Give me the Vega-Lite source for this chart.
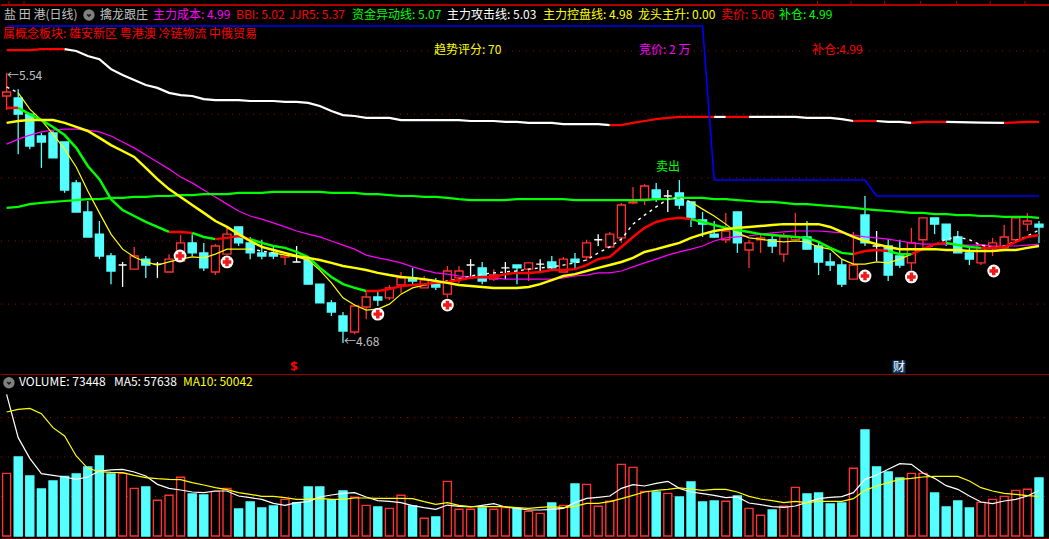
{"$schema":"https://vega.github.io/schema/vega-lite/v6.json","background":"#000000","padding":0,"spacing":0,"autosize":{"type":"pad"},"config":{"view":{"stroke":null},"concat":{"spacing":0},"axis":{"domain":false}},
"datasets":{
"bars":[
{"i":0,"o":5.460,"h":5.534,"l":5.415,"c":5.473,"d":"up","vol":79300,"vd":"up","ma5":179400,"ma10":157000,"ctrl":5.374,"cost":5.306,"long":5.102},
{"i":1,"o":5.454,"h":5.482,"l":5.274,"c":5.402,"d":"down","vol":100000,"vd":"down","ma5":124500,"ma10":160400,"ctrl":5.380,"cost":5.322,"long":5.105},
{"i":2,"o":5.402,"h":5.402,"l":5.290,"c":5.300,"d":"down","vol":76000,"vd":"down","ma5":98300,"ma10":161600,"ctrl":5.383,"cost":5.335,"long":5.114},
{"i":3,"o":5.332,"h":5.342,"l":5.230,"c":5.313,"d":"down","vol":59500,"vd":"down","ma5":78900,"ma10":154900,"ctrl":5.383,"cost":5.345,"long":5.118},
{"i":4,"o":5.342,"h":5.348,"l":5.262,"c":5.262,"d":"down","vol":69600,"vd":"down","ma5":76800,"ma10":137200,"ctrl":5.383,"cost":5.351,"long":5.121},
{"i":5,"o":5.313,"h":5.313,"l":5.150,"c":5.159,"d":"down","vol":75500,"vd":"down","ma5":74700,"ma10":126600,"ctrl":5.374,"cost":5.354,"long":5.124},
{"i":6,"o":5.182,"h":5.191,"l":5.089,"c":5.089,"d":"down","vol":78500,"vd":"down","ma5":71700,"ma10":101300,"ctrl":5.361,"cost":5.354,"long":5.127},
{"i":7,"o":5.089,"h":5.124,"l":5.009,"c":5.009,"d":"down","vol":87400,"vd":"down","ma5":74700,"ma10":85700,"ctrl":5.348,"cost":5.351,"long":5.130},
{"i":8,"o":5.018,"h":5.060,"l":4.938,"c":4.948,"d":"down","vol":101300,"vd":"down","ma5":82300,"ma10":81400,"ctrl":5.326,"cost":5.345,"long":5.130},
{"i":9,"o":4.948,"h":4.958,"l":4.858,"c":4.900,"d":"down","vol":78500,"vd":"down","ma5":83600,"ma10":80600,"ctrl":5.303,"cost":5.332,"long":5.134},
{"i":10,"o":4.919,"h":4.929,"l":4.849,"c":4.919,"d":"doji","vol":79300,"vd":"up","ma5":84400,"ma10":80200,"ctrl":5.284,"cost":5.313,"long":5.134},
{"i":11,"o":4.906,"h":4.977,"l":4.906,"c":4.948,"d":"up","vol":60300,"vd":"up","ma5":81000,"ma10":76800,"ctrl":5.265,"cost":5.294,"long":5.137},
{"i":12,"o":4.938,"h":4.948,"l":4.878,"c":4.919,"d":"down","vol":62000,"vd":"down","ma5":76000,"ma10":73900,"ctrl":5.230,"cost":5.271,"long":5.137},
{"i":13,"o":4.922,"h":4.929,"l":4.878,"c":4.922,"d":"doji","vol":45200,"vd":"up","ma5":65400,"ma10":72600,"ctrl":5.194,"cost":5.249,"long":5.140},
{"i":14,"o":4.897,"h":4.954,"l":4.897,"c":4.938,"d":"up","vol":51500,"vd":"up","ma5":60300,"ma10":71700,"ctrl":5.162,"cost":5.226,"long":5.140},
{"i":15,"o":4.932,"h":5.015,"l":4.932,"c":4.990,"d":"up","vol":74300,"vd":"up","ma5":58200,"ma10":71300,"ctrl":5.137,"cost":5.201,"long":5.143},
{"i":16,"o":4.990,"h":5.018,"l":4.948,"c":4.958,"d":"down","vol":53200,"vd":"down","ma5":55700,"ma10":67500,"ctrl":5.111,"cost":5.182,"long":5.143},
{"i":17,"o":4.958,"h":4.990,"l":4.900,"c":4.910,"d":"down","vol":51900,"vd":"down","ma5":54900,"ma10":64600,"ctrl":5.086,"cost":5.159,"long":5.146},
{"i":18,"o":4.897,"h":4.986,"l":4.887,"c":4.980,"d":"up","vol":56500,"vd":"up","ma5":57000,"ma10":61200,"ctrl":5.060,"cost":5.137,"long":5.146},
{"i":19,"o":4.954,"h":5.038,"l":4.954,"c":5.018,"d":"up","vol":60300,"vd":"up","ma5":57000,"ma10":58700,"ctrl":5.041,"cost":5.114,"long":5.146},
{"i":20,"o":5.041,"h":5.041,"l":4.980,"c":4.990,"d":"down","vol":34200,"vd":"down","ma5":50600,"ma10":54900,"ctrl":5.018,"cost":5.092,"long":5.150},
{"i":21,"o":4.990,"h":5.009,"l":4.938,"c":4.958,"d":"down","vol":43000,"vd":"down","ma5":48500,"ma10":52800,"ctrl":4.996,"cost":5.076,"long":5.150},
{"i":22,"o":4.958,"h":5.000,"l":4.938,"c":4.948,"d":"down","vol":35400,"vd":"down","ma5":46400,"ma10":50200,"ctrl":4.977,"cost":5.066,"long":5.150},
{"i":23,"o":4.958,"h":4.980,"l":4.938,"c":4.948,"d":"down","vol":38000,"vd":"down","ma5":41400,"ma10":50200,"ctrl":4.967,"cost":5.054,"long":5.153},
{"i":24,"o":4.945,"h":4.961,"l":4.919,"c":4.954,"d":"up","vol":46400,"vd":"up","ma5":38800,"ma10":48500,"ctrl":4.958,"cost":5.041,"long":5.153},
{"i":25,"o":4.929,"h":4.980,"l":4.929,"c":4.929,"d":"doji","vol":42200,"vd":"down","ma5":42200,"ma10":46400,"ctrl":4.948,"cost":5.028,"long":5.153},
{"i":26,"o":4.938,"h":4.938,"l":4.858,"c":4.858,"d":"down","vol":62000,"vd":"down","ma5":43500,"ma10":46400,"ctrl":4.942,"cost":5.018,"long":5.153},
{"i":27,"o":4.858,"h":4.858,"l":4.798,"c":4.798,"d":"down","vol":62000,"vd":"down","ma5":49400,"ma10":47700,"ctrl":4.935,"cost":5.009,"long":5.153},
{"i":28,"o":4.798,"h":4.807,"l":4.756,"c":4.769,"d":"down","vol":45600,"vd":"down","ma5":51900,"ma10":46400,"ctrl":4.926,"cost":4.996,"long":5.150},
{"i":29,"o":4.756,"h":4.769,"l":4.670,"c":4.708,"d":"down","vol":57000,"vd":"down","ma5":54000,"ma10":46400,"ctrl":4.916,"cost":4.983,"long":5.150},
{"i":30,"o":4.705,"h":4.794,"l":4.698,"c":4.788,"d":"up","vol":49000,"vd":"up","ma5":54900,"ma10":48100,"ctrl":4.910,"cost":4.970,"long":5.150},
{"i":31,"o":4.785,"h":4.839,"l":4.746,"c":4.817,"d":"up","vol":38800,"vd":"up","ma5":49400,"ma10":48100,"ctrl":4.903,"cost":4.951,"long":5.146},
{"i":32,"o":4.817,"h":4.839,"l":4.788,"c":4.807,"d":"down","vol":36700,"vd":"down","ma5":44700,"ma10":47700,"ctrl":4.894,"cost":4.942,"long":5.146},
{"i":33,"o":4.814,"h":4.855,"l":4.807,"c":4.846,"d":"up","vol":35000,"vd":"up","ma5":43900,"ma10":47700,"ctrl":4.887,"cost":4.935,"long":5.143},
{"i":34,"o":4.855,"h":4.897,"l":4.830,"c":4.878,"d":"up","vol":51500,"vd":"up","ma5":42200,"ma10":47700,"ctrl":4.881,"cost":4.926,"long":5.140},
{"i":35,"o":4.878,"h":4.910,"l":4.855,"c":4.868,"d":"down","vol":38000,"vd":"down","ma5":38400,"ma10":47300,"ctrl":4.878,"cost":4.913,"long":5.140},
{"i":36,"o":4.846,"h":4.884,"l":4.846,"c":4.871,"d":"up","vol":22400,"vd":"up","ma5":35900,"ma10":43500,"ctrl":4.874,"cost":4.903,"long":5.137},
{"i":37,"o":4.862,"h":4.878,"l":4.839,"c":4.849,"d":"down","vol":24100,"vd":"down","ma5":33800,"ma10":40100,"ctrl":4.868,"cost":4.894,"long":5.137},
{"i":38,"o":4.826,"h":4.916,"l":4.814,"c":4.900,"d":"up","vol":69200,"vd":"up","ma5":39200,"ma10":42200,"ctrl":4.862,"cost":4.890,"long":5.134},
{"i":39,"o":4.878,"h":4.916,"l":4.862,"c":4.900,"d":"up","vol":33800,"vd":"up","ma5":37600,"ma10":38800,"ctrl":4.855,"cost":4.884,"long":5.130},
{"i":40,"o":4.919,"h":4.938,"l":4.878,"c":4.919,"d":"doji","vol":33800,"vd":"up","ma5":36700,"ma10":37100,"ctrl":4.852,"cost":4.881,"long":5.127},
{"i":41,"o":4.910,"h":4.929,"l":4.858,"c":4.868,"d":"down","vol":35400,"vd":"down","ma5":38800,"ma10":37100,"ctrl":4.849,"cost":4.878,"long":5.127},
{"i":42,"o":4.874,"h":4.906,"l":4.868,"c":4.887,"d":"up","vol":33800,"vd":"up","ma5":40900,"ma10":37100,"ctrl":4.846,"cost":4.878,"long":5.127},
{"i":43,"o":4.910,"h":4.929,"l":4.874,"c":4.910,"d":"doji","vol":35900,"vd":"up","ma5":36700,"ma10":37100,"ctrl":4.846,"cost":4.874,"long":5.127},
{"i":44,"o":4.919,"h":4.919,"l":4.858,"c":4.910,"d":"down","vol":34600,"vd":"down","ma5":35000,"ma10":35900,"ctrl":4.846,"cost":4.874,"long":5.130},
{"i":45,"o":4.906,"h":4.926,"l":4.868,"c":4.926,"d":"up","vol":31200,"vd":"up","ma5":32900,"ma10":35000,"ctrl":4.849,"cost":4.874,"long":5.130},
{"i":46,"o":4.922,"h":4.938,"l":4.900,"c":4.922,"d":"doji","vol":28700,"vd":"up","ma5":32900,"ma10":36300,"ctrl":4.858,"cost":4.874,"long":5.130},
{"i":47,"o":4.929,"h":4.948,"l":4.903,"c":4.910,"d":"down","vol":41800,"vd":"down","ma5":33800,"ma10":37100,"ctrl":4.871,"cost":4.874,"long":5.130},
{"i":48,"o":4.897,"h":4.945,"l":4.897,"c":4.938,"d":"up","vol":38800,"vd":"up","ma5":35000,"ma10":35900,"ctrl":4.884,"cost":4.878,"long":5.130},
{"i":49,"o":4.938,"h":4.958,"l":4.903,"c":4.929,"d":"down","vol":65800,"vd":"down","ma5":42200,"ma10":37600,"ctrl":4.890,"cost":4.884,"long":5.127},
{"i":50,"o":4.945,"h":5.000,"l":4.932,"c":4.990,"d":"up","vol":65400,"vd":"up","ma5":47700,"ma10":41400,"ctrl":4.900,"cost":4.887,"long":5.127},
{"i":51,"o":5.000,"h":5.018,"l":4.980,"c":5.000,"d":"doji","vol":37600,"vd":"up","ma5":49000,"ma10":41400,"ctrl":4.910,"cost":4.894,"long":5.127},
{"i":52,"o":4.977,"h":5.025,"l":4.977,"c":5.018,"d":"up","vol":43900,"vd":"up","ma5":50600,"ma10":43500,"ctrl":4.919,"cost":4.894,"long":5.127},
{"i":53,"o":5.006,"h":5.118,"l":4.990,"c":5.111,"d":"up","vol":90700,"vd":"up","ma5":60300,"ma10":47300,"ctrl":4.929,"cost":4.900,"long":5.127},
{"i":54,"o":5.118,"h":5.169,"l":5.114,"c":5.121,"d":"up","vol":86900,"vd":"up","ma5":65000,"ma10":51500,"ctrl":4.942,"cost":4.913,"long":5.127},
{"i":55,"o":5.130,"h":5.178,"l":5.111,"c":5.172,"d":"up","vol":56500,"vd":"up","ma5":63300,"ma10":55700,"ctrl":4.961,"cost":4.926,"long":5.127},
{"i":56,"o":5.159,"h":5.182,"l":5.121,"c":5.134,"d":"down","vol":55700,"vd":"down","ma5":66700,"ma10":57800,"ctrl":4.970,"cost":4.938,"long":5.130},
{"i":57,"o":5.140,"h":5.159,"l":5.089,"c":5.140,"d":"doji","vol":54000,"vd":"up","ma5":69200,"ma10":59100,"ctrl":4.980,"cost":4.951,"long":5.130},
{"i":58,"o":5.150,"h":5.191,"l":5.098,"c":5.111,"d":"down","vol":49400,"vd":"down","ma5":60300,"ma10":60800,"ctrl":4.990,"cost":4.961,"long":5.134},
{"i":59,"o":5.121,"h":5.121,"l":5.041,"c":5.070,"d":"down","vol":68400,"vd":"down","ma5":55700,"ma10":59500,"ctrl":5.006,"cost":4.970,"long":5.134},
{"i":60,"o":5.063,"h":5.089,"l":5.009,"c":5.050,"d":"down","vol":43000,"vd":"down","ma5":53600,"ma10":57800,"ctrl":5.018,"cost":4.980,"long":5.134},
{"i":61,"o":5.018,"h":5.060,"l":5.006,"c":5.009,"d":"down","vol":44300,"vd":"down","ma5":51500,"ma10":59100,"ctrl":5.028,"cost":4.996,"long":5.130},
{"i":62,"o":5.000,"h":5.086,"l":4.990,"c":5.028,"d":"up","vol":43900,"vd":"up","ma5":48500,"ma10":59100,"ctrl":5.034,"cost":5.006,"long":5.130},
{"i":63,"o":5.089,"h":5.089,"l":4.958,"c":4.990,"d":"down","vol":50600,"vd":"down","ma5":49400,"ma10":55700,"ctrl":5.038,"cost":5.009,"long":5.127},
{"i":64,"o":4.967,"h":5.000,"l":4.910,"c":4.990,"d":"up","vol":35000,"vd":"up","ma5":41800,"ma10":50200,"ctrl":5.041,"cost":5.012,"long":5.124},
{"i":65,"o":5.000,"h":5.018,"l":4.958,"c":5.006,"d":"up","vol":26200,"vd":"up","ma5":39700,"ma10":46800,"ctrl":5.044,"cost":5.018,"long":5.121},
{"i":66,"o":5.000,"h":5.018,"l":4.958,"c":4.980,"d":"down","vol":32900,"vd":"down","ma5":37100,"ma10":44700,"ctrl":5.047,"cost":5.022,"long":5.121},
{"i":67,"o":4.954,"h":5.022,"l":4.929,"c":5.009,"d":"up","vol":37600,"vd":"up","ma5":36300,"ma10":42200,"ctrl":5.050,"cost":5.025,"long":5.118},
{"i":68,"o":5.000,"h":5.086,"l":5.000,"c":5.009,"d":"up","vol":61600,"vd":"up","ma5":38000,"ma10":43900,"ctrl":5.050,"cost":5.028,"long":5.114},
{"i":69,"o":5.009,"h":5.060,"l":4.970,"c":4.970,"d":"down","vol":53200,"vd":"down","ma5":42600,"ma10":42200,"ctrl":5.050,"cost":5.028,"long":5.114},
{"i":70,"o":4.980,"h":4.996,"l":4.887,"c":4.929,"d":"down","vol":54400,"vd":"down","ma5":47300,"ma10":43900,"ctrl":5.050,"cost":5.028,"long":5.111},
{"i":71,"o":4.929,"h":4.958,"l":4.900,"c":4.919,"d":"down","vol":40500,"vd":"down","ma5":49000,"ma10":43900,"ctrl":5.041,"cost":5.025,"long":5.108},
{"i":72,"o":4.919,"h":4.938,"l":4.849,"c":4.858,"d":"down","vol":41800,"vd":"down","ma5":49800,"ma10":43900,"ctrl":5.025,"cost":5.022,"long":5.105},
{"i":73,"o":4.874,"h":5.025,"l":4.874,"c":4.919,"d":"up","vol":85700,"vd":"up","ma5":54900,"ma10":47300,"ctrl":5.009,"cost":5.015,"long":5.102},
{"i":74,"o":5.079,"h":5.140,"l":4.980,"c":4.990,"d":"down","vol":134200,"vd":"down","ma5":71700,"ma10":57800,"ctrl":4.996,"cost":5.009,"long":5.098},
{"i":75,"o":4.980,"h":5.028,"l":4.932,"c":4.980,"d":"doji","vol":87400,"vd":"down","ma5":77200,"ma10":63300,"ctrl":4.986,"cost":5.006,"long":5.095},
{"i":76,"o":4.980,"h":5.002,"l":4.868,"c":4.887,"d":"down","vol":81000,"vd":"down","ma5":84400,"ma10":67500,"ctrl":4.977,"cost":5.002,"long":5.092},
{"i":77,"o":4.948,"h":5.000,"l":4.910,"c":4.919,"d":"down","vol":73400,"vd":"down","ma5":91600,"ma10":71700,"ctrl":4.970,"cost":4.996,"long":5.089},
{"i":78,"o":4.926,"h":5.038,"l":4.903,"c":4.990,"d":"up","vol":79300,"vd":"up","ma5":90700,"ma10":73000,"ctrl":4.970,"cost":4.990,"long":5.086},
{"i":79,"o":5.000,"h":5.070,"l":4.974,"c":5.070,"d":"up","vol":79300,"vd":"up","ma5":79800,"ma10":74700,"ctrl":4.970,"cost":4.986,"long":5.086},
{"i":80,"o":5.070,"h":5.070,"l":5.018,"c":5.050,"d":"down","vol":54400,"vd":"down","ma5":73000,"ma10":75500,"ctrl":4.970,"cost":4.986,"long":5.082},
{"i":81,"o":5.050,"h":5.050,"l":4.980,"c":5.000,"d":"down","vol":36700,"vd":"down","ma5":63700,"ma10":75500,"ctrl":4.967,"cost":4.986,"long":5.082},
{"i":82,"o":5.009,"h":5.028,"l":4.958,"c":4.958,"d":"down","vol":44300,"vd":"down","ma5":59100,"ma10":75500,"ctrl":4.967,"cost":4.983,"long":5.079},
{"i":83,"o":4.958,"h":4.980,"l":4.919,"c":4.938,"d":"down","vol":35400,"vd":"down","ma5":50600,"ma10":69600,"ctrl":4.964,"cost":4.983,"long":5.079},
{"i":84,"o":4.926,"h":4.986,"l":4.919,"c":4.983,"d":"up","vol":42600,"vd":"up","ma5":43000,"ma10":61200,"ctrl":4.964,"cost":4.983,"long":5.076},
{"i":85,"o":4.977,"h":5.006,"l":4.948,"c":4.990,"d":"up","vol":46400,"vd":"up","ma5":40900,"ma10":57000,"ctrl":4.964,"cost":4.980,"long":5.076},
{"i":86,"o":4.974,"h":5.047,"l":4.974,"c":5.009,"d":"up","vol":50200,"vd":"up","ma5":44300,"ma10":54000,"ctrl":4.967,"cost":4.980,"long":5.073},
{"i":87,"o":5.000,"h":5.070,"l":5.000,"c":5.070,"d":"up","vol":57800,"vd":"up","ma5":46400,"ma10":52800,"ctrl":4.967,"cost":4.980,"long":5.073},
{"i":88,"o":5.050,"h":5.086,"l":5.028,"c":5.060,"d":"up","vol":59100,"vd":"up","ma5":50600,"ma10":51100,"ctrl":4.974,"cost":4.983,"long":5.073},
{"i":89,"o":5.050,"h":5.060,"l":4.990,"c":5.041,"d":"down","vol":73448,"vd":"down","ma5":57638,"ma10":50042,"ctrl":4.980,"cost":4.986,"long":5.070}
],
"trend":[
{"i":0,"v":5.607,"s":1,"k":"up"},{"i":2,"v":5.607,"s":1,"k":"up"},{"i":3,"v":5.610,"s":1,"k":"up"},{"i":5,"v":5.610,"s":1,"k":"up"},
{"i":5,"v":5.610,"s":2,"k":"flat"},{"i":6,"v":5.604,"s":2,"k":"flat"},{"i":7,"v":5.588,"s":2,"k":"flat"},{"i":8,"v":5.578,"s":2,"k":"flat"},{"i":9,"v":5.546,"s":2,"k":"flat"},{"i":10,"v":5.527,"s":2,"k":"flat"},{"i":11,"v":5.511,"s":2,"k":"flat"},{"i":12,"v":5.495,"s":2,"k":"flat"},{"i":13,"v":5.486,"s":2,"k":"flat"},{"i":14,"v":5.470,"s":2,"k":"flat"},{"i":15,"v":5.463,"s":2,"k":"flat"},{"i":16,"v":5.460,"s":2,"k":"flat"},{"i":17,"v":5.450,"s":2,"k":"flat"},{"i":18,"v":5.447,"s":2,"k":"flat"},{"i":20,"v":5.447,"s":2,"k":"flat"},{"i":21,"v":5.444,"s":2,"k":"flat"},{"i":23,"v":5.444,"s":2,"k":"flat"},{"i":24,"v":5.441,"s":2,"k":"flat"},{"i":25,"v":5.441,"s":2,"k":"flat"},{"i":26,"v":5.438,"s":2,"k":"flat"},{"i":27,"v":5.428,"s":2,"k":"flat"},{"i":28,"v":5.412,"s":2,"k":"flat"},{"i":29,"v":5.399,"s":2,"k":"flat"},{"i":30,"v":5.396,"s":2,"k":"flat"},{"i":31,"v":5.390,"s":2,"k":"flat"},{"i":33,"v":5.390,"s":2,"k":"flat"},{"i":34,"v":5.383,"s":2,"k":"flat"},{"i":39,"v":5.383,"s":2,"k":"flat"},{"i":40,"v":5.380,"s":2,"k":"flat"},{"i":42,"v":5.380,"s":2,"k":"flat"},{"i":43,"v":5.377,"s":2,"k":"flat"},{"i":44,"v":5.377,"s":2,"k":"flat"},{"i":45,"v":5.374,"s":2,"k":"flat"},{"i":47,"v":5.374,"s":2,"k":"flat"},{"i":48,"v":5.370,"s":2,"k":"flat"},{"i":51,"v":5.370,"s":2,"k":"flat"},{"i":52,"v":5.367,"s":2,"k":"flat"},
{"i":52,"v":5.367,"s":3,"k":"up"},{"i":53,"v":5.367,"s":3,"k":"up"},{"i":54,"v":5.374,"s":3,"k":"up"},{"i":55,"v":5.380,"s":3,"k":"up"},{"i":56,"v":5.386,"s":3,"k":"up"},{"i":57,"v":5.390,"s":3,"k":"up"},{"i":58,"v":5.393,"s":3,"k":"up"},{"i":61,"v":5.393,"s":3,"k":"up"},
{"i":61,"v":5.393,"s":4,"k":"flat"},{"i":62,"v":5.393,"s":4,"k":"flat"},
{"i":62,"v":5.393,"s":5,"k":"up"},{"i":64,"v":5.393,"s":5,"k":"up"},
{"i":64,"v":5.393,"s":6,"k":"flat"},{"i":68,"v":5.393,"s":6,"k":"flat"},{"i":69,"v":5.390,"s":6,"k":"flat"},{"i":71,"v":5.390,"s":6,"k":"flat"},{"i":72,"v":5.386,"s":6,"k":"flat"},{"i":73,"v":5.380,"s":6,"k":"flat"},
{"i":73,"v":5.380,"s":7,"k":"up"},{"i":75,"v":5.380,"s":7,"k":"up"},
{"i":75,"v":5.380,"s":8,"k":"flat"},{"i":76,"v":5.377,"s":8,"k":"flat"},{"i":77,"v":5.377,"s":8,"k":"flat"},{"i":78,"v":5.374,"s":8,"k":"flat"},
{"i":78,"v":5.374,"s":9,"k":"up"},{"i":79,"v":5.377,"s":9,"k":"up"},{"i":81,"v":5.377,"s":9,"k":"up"},
{"i":81,"v":5.377,"s":10,"k":"flat"},{"i":84,"v":5.375,"s":10,"k":"flat"},{"i":86,"v":5.374,"s":10,"k":"flat"},
{"i":86,"v":5.374,"s":11,"k":"up"},{"i":88,"v":5.377,"s":11,"k":"up"},{"i":89,"v":5.377,"s":11,"k":"up"}
],
"attack":[
{"i":0,"v":5.422,"s":1,"k":"up"},{"i":1,"v":5.422,"s":1,"k":"up"},
{"i":1,"v":5.422,"s":2,"k":"down"},{"i":2,"v":5.402,"s":2,"k":"down"},{"i":3,"v":5.383,"s":2,"k":"down"},{"i":4,"v":5.361,"s":2,"k":"down"},{"i":5,"v":5.335,"s":2,"k":"down"},{"i":6,"v":5.294,"s":2,"k":"down"},{"i":7,"v":5.236,"s":2,"k":"down"},{"i":8,"v":5.194,"s":2,"k":"down"},{"i":9,"v":5.130,"s":2,"k":"down"},{"i":10,"v":5.095,"s":2,"k":"down"},{"i":11,"v":5.076,"s":2,"k":"down"},{"i":12,"v":5.057,"s":2,"k":"down"},{"i":13,"v":5.041,"s":2,"k":"down"},{"i":14,"v":5.025,"s":2,"k":"down"},
{"i":14,"v":5.025,"s":3,"k":"up"},{"i":15,"v":5.025,"s":3,"k":"up"},{"i":16,"v":5.022,"s":3,"k":"up"},
{"i":16,"v":5.022,"s":4,"k":"down"},{"i":17,"v":5.009,"s":4,"k":"down"},{"i":18,"v":5.002,"s":4,"k":"down"},
{"i":18,"v":5.002,"s":5,"k":"up"},{"i":19,"v":5.006,"s":5,"k":"up"},{"i":20,"v":5.012,"s":5,"k":"up"},{"i":21,"v":5.002,"s":5,"k":"up"},
{"i":21,"v":5.002,"s":6,"k":"down"},{"i":22,"v":4.990,"s":6,"k":"down"},{"i":23,"v":4.980,"s":6,"k":"down"},{"i":24,"v":4.974,"s":6,"k":"down"},{"i":25,"v":4.961,"s":6,"k":"down"},{"i":26,"v":4.945,"s":6,"k":"down"},{"i":27,"v":4.910,"s":6,"k":"down"},{"i":28,"v":4.881,"s":6,"k":"down"},{"i":29,"v":4.858,"s":6,"k":"down"},{"i":30,"v":4.846,"s":6,"k":"down"},{"i":31,"v":4.836,"s":6,"k":"down"},
{"i":31,"v":4.836,"s":7,"k":"up"},{"i":32,"v":4.836,"s":7,"k":"up"},{"i":33,"v":4.842,"s":7,"k":"up"},{"i":34,"v":4.852,"s":7,"k":"up"},{"i":35,"v":4.855,"s":7,"k":"up"},{"i":36,"v":4.858,"s":7,"k":"up"},{"i":37,"v":4.862,"s":7,"k":"up"},{"i":38,"v":4.865,"s":7,"k":"up"},{"i":39,"v":4.871,"s":7,"k":"up"},{"i":40,"v":4.878,"s":7,"k":"up"},{"i":41,"v":4.881,"s":7,"k":"up"},{"i":42,"v":4.881,"s":7,"k":"up"},{"i":43,"v":4.890,"s":7,"k":"up"},{"i":44,"v":4.894,"s":7,"k":"up"},{"i":45,"v":4.894,"s":7,"k":"up"},{"i":46,"v":4.897,"s":7,"k":"up"},{"i":47,"v":4.903,"s":7,"k":"up"},{"i":48,"v":4.903,"s":7,"k":"up"},{"i":49,"v":4.906,"s":7,"k":"up"},{"i":50,"v":4.919,"s":7,"k":"up"},{"i":51,"v":4.938,"s":7,"k":"up"},{"i":52,"v":4.945,"s":7,"k":"up"},{"i":53,"v":4.977,"s":7,"k":"up"},{"i":54,"v":5.009,"s":7,"k":"up"},{"i":55,"v":5.038,"s":7,"k":"up"},{"i":56,"v":5.057,"s":7,"k":"up"},{"i":57,"v":5.066,"s":7,"k":"up"},{"i":58,"v":5.070,"s":7,"k":"up"},{"i":59,"v":5.066,"s":7,"k":"up"},
{"i":59,"v":5.066,"s":8,"k":"down"},{"i":60,"v":5.057,"s":8,"k":"down"},{"i":61,"v":5.047,"s":8,"k":"down"},{"i":62,"v":5.038,"s":8,"k":"down"},{"i":63,"v":5.031,"s":8,"k":"down"},{"i":64,"v":5.025,"s":8,"k":"down"},{"i":65,"v":5.018,"s":8,"k":"down"},{"i":66,"v":5.015,"s":8,"k":"down"},{"i":67,"v":5.012,"s":8,"k":"down"},{"i":68,"v":5.009,"s":8,"k":"down"},{"i":69,"v":5.006,"s":8,"k":"down"},{"i":70,"v":4.993,"s":8,"k":"down"},{"i":71,"v":4.974,"s":8,"k":"down"},{"i":72,"v":4.958,"s":8,"k":"down"},{"i":73,"v":4.954,"s":8,"k":"down"},
{"i":73,"v":4.954,"s":9,"k":"up"},{"i":74,"v":4.964,"s":9,"k":"up"},{"i":75,"v":4.967,"s":9,"k":"up"},{"i":76,"v":4.964,"s":9,"k":"up"},
{"i":76,"v":4.964,"s":10,"k":"down"},{"i":77,"v":4.954,"s":10,"k":"down"},{"i":78,"v":4.954,"s":10,"k":"down"},
{"i":78,"v":4.954,"s":11,"k":"up"},{"i":79,"v":4.970,"s":11,"k":"up"},{"i":80,"v":4.986,"s":11,"k":"up"},{"i":81,"v":4.990,"s":11,"k":"up"},
{"i":81,"v":4.990,"s":12,"k":"down"},{"i":82,"v":4.983,"s":12,"k":"down"},{"i":83,"v":4.977,"s":12,"k":"down"},{"i":84,"v":4.974,"s":12,"k":"down"},
{"i":84,"v":4.974,"s":13,"k":"up"},{"i":85,"v":4.974,"s":13,"k":"up"},{"i":86,"v":4.977,"s":13,"k":"up"},{"i":87,"v":4.993,"s":13,"k":"up"},{"i":88,"v":5.009,"s":13,"k":"up"},{"i":89,"v":5.015,"s":13,"k":"up"}
],
"fast":[
{"i":0,"v":5.489,"s":1,"k":"rise"},{"i":1,"v":5.470,"s":1,"k":"rise"},
{"i":1,"v":5.470,"s":2,"k":"fall"},{"i":2,"v":5.418,"s":2,"k":"fall"},{"i":3,"v":5.383,"s":2,"k":"fall"},{"i":4,"v":5.338,"s":2,"k":"fall"},{"i":5,"v":5.290,"s":2,"k":"fall"},{"i":6,"v":5.233,"s":2,"k":"fall"},{"i":7,"v":5.156,"s":2,"k":"fall"},{"i":8,"v":5.086,"s":2,"k":"fall"},{"i":9,"v":5.018,"s":2,"k":"fall"},{"i":10,"v":4.970,"s":2,"k":"fall"},{"i":11,"v":4.945,"s":2,"k":"fall"},{"i":12,"v":4.929,"s":2,"k":"fall"},{"i":13,"v":4.919,"s":2,"k":"fall"},{"i":14,"v":4.929,"s":2,"k":"fall"},{"i":15,"v":4.938,"s":2,"k":"fall"},{"i":16,"v":4.945,"s":2,"k":"fall"},{"i":17,"v":4.942,"s":2,"k":"fall"},{"i":18,"v":4.954,"s":2,"k":"fall"},{"i":19,"v":4.970,"s":2,"k":"fall"},{"i":20,"v":4.970,"s":2,"k":"fall"},{"i":21,"v":4.970,"s":2,"k":"fall"},
{"i":21,"v":4.970,"s":3,"k":"rise"},{"i":22,"v":4.964,"s":3,"k":"rise"},{"i":23,"v":4.958,"s":3,"k":"rise"},
{"i":23,"v":4.958,"s":4,"k":"fall"},{"i":24,"v":4.951,"s":4,"k":"fall"},{"i":25,"v":4.945,"s":4,"k":"fall"},{"i":26,"v":4.935,"s":4,"k":"fall"},{"i":27,"v":4.903,"s":4,"k":"fall"},{"i":28,"v":4.862,"s":4,"k":"fall"},{"i":29,"v":4.814,"s":4,"k":"fall"},{"i":30,"v":4.791,"s":4,"k":"fall"},{"i":31,"v":4.775,"s":4,"k":"fall"},{"i":32,"v":4.778,"s":4,"k":"fall"},{"i":33,"v":4.794,"s":4,"k":"fall"},{"i":34,"v":4.826,"s":4,"k":"fall"},{"i":35,"v":4.846,"s":4,"k":"fall"},{"i":36,"v":4.855,"s":4,"k":"fall"},
{"i":36,"v":4.855,"s":5,"k":"rise"},{"i":37,"v":4.862,"s":5,"k":"rise"},{"i":38,"v":4.868,"s":5,"k":"rise"},{"i":39,"v":4.874,"s":5,"k":"rise"},{"i":40,"v":4.884,"s":5,"k":"rise"},{"i":41,"v":4.890,"s":5,"k":"rise"},{"i":42,"v":4.894,"s":5,"k":"rise"},{"i":43,"v":4.897,"s":5,"k":"rise"},{"i":44,"v":4.900,"s":5,"k":"rise"},{"i":45,"v":4.906,"s":5,"k":"rise"},{"i":46,"v":4.910,"s":5,"k":"rise"},{"i":47,"v":4.913,"s":5,"k":"rise"},{"i":48,"v":4.919,"s":5,"k":"rise"},{"i":49,"v":4.926,"s":5,"k":"rise"},{"i":50,"v":4.935,"s":5,"k":"rise"},{"i":51,"v":4.958,"s":5,"k":"rise"},{"i":52,"v":4.977,"s":5,"k":"rise"},{"i":53,"v":5.002,"s":5,"k":"rise"},{"i":54,"v":5.050,"s":5,"k":"rise"},{"i":55,"v":5.079,"s":5,"k":"rise"},{"i":56,"v":5.105,"s":5,"k":"rise"},{"i":57,"v":5.130,"s":5,"k":"rise"},{"i":58,"v":5.134,"s":5,"k":"rise"},{"i":59,"v":5.121,"s":5,"k":"rise"},
{"i":59,"v":5.121,"s":6,"k":"fall"},{"i":60,"v":5.098,"s":6,"k":"fall"},{"i":61,"v":5.076,"s":6,"k":"fall"},{"i":62,"v":5.050,"s":6,"k":"fall"},{"i":63,"v":5.022,"s":6,"k":"fall"},{"i":64,"v":5.006,"s":6,"k":"fall"},{"i":65,"v":5.002,"s":6,"k":"fall"},{"i":66,"v":4.996,"s":6,"k":"fall"},{"i":67,"v":4.993,"s":6,"k":"fall"},{"i":68,"v":4.996,"s":6,"k":"fall"},{"i":69,"v":4.993,"s":6,"k":"fall"},{"i":70,"v":4.977,"s":6,"k":"fall"},{"i":71,"v":4.970,"s":6,"k":"fall"},{"i":72,"v":4.938,"s":6,"k":"fall"},{"i":73,"v":4.922,"s":6,"k":"fall"},{"i":74,"v":4.922,"s":6,"k":"fall"},{"i":75,"v":4.929,"s":6,"k":"fall"},{"i":76,"v":4.926,"s":6,"k":"fall"},{"i":77,"v":4.938,"s":6,"k":"fall"},{"i":78,"v":4.954,"s":6,"k":"fall"},{"i":79,"v":4.970,"s":6,"k":"fall"},
{"i":79,"v":4.970,"s":7,"k":"rise"},{"i":80,"v":4.983,"s":7,"k":"rise"},{"i":81,"v":5.002,"s":7,"k":"rise"},{"i":82,"v":5.009,"s":7,"k":"rise"},{"i":83,"v":5.000,"s":7,"k":"rise"},{"i":84,"v":4.983,"s":7,"k":"rise"},{"i":85,"v":4.974,"s":7,"k":"rise"},{"i":86,"v":4.980,"s":7,"k":"rise"},{"i":87,"v":4.996,"s":7,"k":"rise"},{"i":88,"v":5.012,"s":7,"k":"rise"},{"i":89,"v":5.031,"s":7,"k":"rise"}
],
"stop":[
{"i":0,"v":5.684},{"i":60,"v":5.684},{"i":61,"v":5.191},{"i":74,"v":5.191},{"i":75,"v":5.140},{"i":89,"v":5.140}
],
"buys":[{"i":14.95,"v":4.948},{"i":19,"v":4.929},{"i":32,"v":4.762},{"i":38,"v":4.791},{"i":74,"v":4.884},{"i":78,"v":4.881},{"i":85.1,"v":4.900}],
"grid":[{"v":5.604},{"v":5.402},{"v":5.198},{"v":4.996},{"v":4.794}],
"ticks":[{"i":0.2},{"i":1.5},{"i":69.9},{"i":72.8},{"i":75.7},{"i":78.8},{"i":81.9},{"i":84.8},{"i":87.8}],
"notes":[
{"t":"盐 田 港(日线)","i":-0.22,"v":5.719,"k":"name"},
{"t":"擒龙跟庄","i":8.05,"v":5.719,"k":"name"},
{"t":"主力成本: 4.99","i":12.62,"v":5.719,"k":"cost"},
{"t":"BBI: 5.02","i":19.78,"v":5.719,"k":"sell"},
{"t":"JJR5: 5.37","i":24.35,"v":5.719,"k":"sell"},
{"t":"资金异动线: 5.07","i":29.78,"v":5.719,"k":"fund"},
{"t":"主力攻击线: 5.03","i":37.97,"v":5.719,"k":"attack"},
{"t":"主力控盘线: 4.98","i":46.24,"v":5.719,"k":"ctrl"},
{"t":"龙头主升: 0.00","i":54.43,"v":5.719,"k":"ctrl"},
{"t":"卖价: 5.06","i":61.59,"v":5.719,"k":"sell"},
{"t":"补仓: 4.99","i":66.59,"v":5.719,"k":"fund"},
{"t":"属概念板块: 雄安新区 粤港澳 冷链物流 中俄贸易","i":-0.31,"v":5.658,"k":"sell"},
{"t":"趋势评分: 70","i":36.85,"v":5.607,"k":"ctrl"},
{"t":"竞价: 2 万","i":54.52,"v":5.607,"k":"cost"},
{"t":"补仓:4.99","i":69.43,"v":5.607,"k":"sell"},
{"t":"卖出","i":55.98,"v":5.233,"k":"fund"},
{"t":"←5.54","i":0.03,"v":5.524,"k":"name"},
{"t":"←4.68","i":29.09,"v":4.673,"k":"name"}
],
"volnotes":[
{"t":"VOLUME: 73448","i":1.07,"v":195000,"k":"attack"},
{"t":"MA5: 57638","i":9.25,"v":195000,"k":"attack"},
{"t":"MA10: 50042","i":15.21,"v":195000,"k":"ctrl"}
],
"volgrid":[{"v":50000},{"v":100000},{"v":150000}],
"icon":[{"i":7.1,"v":5.719}],
"volicon":[{"i":0.2,"v":194000}],
"dollar":[{"i":24.78,"v":4.593,"t":"$"}],
"cai":[{"i":76.93,"v":4.593,"t":"财"}]
},
"vconcat":[
{"width":1049,"height":373,
"encoding":{"x":{"field":"i","type":"quantitative","axis":null,"scale":{"domain":[-0.483,89.95],"nice":false,"zero":false,"padding":0}}},
"resolve":{"scale":{"color":"independent","stroke":"independent","fill":"independent"}},
"layer":[
{"data":{"name":"grid"},"mark":{"type":"rule","color":"#b00000","strokeDash":[1,6],"strokeWidth":1},"encoding":{"x":{"value":0},"x2":{"value":1049},"y":{"field":"v","type":"quantitative","axis":null,"scale":{"domain":[4.5704,5.764],"nice":false,"zero":false}}}},
{"data":{"name":"bars"},"mark":{"type":"rule","strokeWidth":1.3},"encoding":{"y":{"field":"l","type":"quantitative"},"y2":{"field":"h"},"stroke":{"field":"d","type":"nominal","legend":null,"scale":{"domain":["up","down","doji"],"range":["#ff3232","#54ffff","#ffffff"]}}}},
{"data":{"name":"bars"},"mark":{"type":"bar","size":8,"orient":"vertical","strokeWidth":1.4},"encoding":{"y":{"field":"o","type":"quantitative"},"y2":{"field":"c"},"stroke":{"field":"d","type":"nominal","legend":null,"scale":{"domain":["up","down","doji"],"range":["#ff3232","#54ffff","#ffffff"]}},"fill":{"field":"d","type":"nominal","legend":null,"scale":{"domain":["up","down","doji"],"range":["#000000","#54ffff","#ffffff"]}}}},
{"data":{"name":"bars"},"mark":{"type":"line","color":"#ff00ff","strokeWidth":1.2},"encoding":{"y":{"field":"cost","type":"quantitative"}}},
{"data":{"name":"bars"},"mark":{"type":"line","color":"#00ff00","strokeWidth":2.2},"encoding":{"y":{"field":"long","type":"quantitative"}}},
{"data":{"name":"fast"},"transform":[{"filter":"datum.k==='fall'"}],"mark":{"type":"line","color":"#ffff00","strokeWidth":1.2},"encoding":{"y":{"field":"v","type":"quantitative"},"detail":{"field":"s"}}},
{"data":{"name":"fast"},"transform":[{"filter":"datum.k==='rise'"}],"mark":{"type":"line","color":"#ffffff","strokeWidth":1.4,"strokeDash":[3,4]},"encoding":{"y":{"field":"v","type":"quantitative"},"detail":{"field":"s"}}},
{"data":{"name":"attack"},"mark":{"type":"line","strokeWidth":2.5},"encoding":{"y":{"field":"v","type":"quantitative"},"detail":{"field":"s"},"stroke":{"field":"k","type":"nominal","legend":null,"scale":{"domain":["up","down"],"range":["#ff0000","#00ff00"]}}}},
{"data":{"name":"bars"},"mark":{"type":"line","color":"#ffff00","strokeWidth":2.5},"encoding":{"y":{"field":"ctrl","type":"quantitative"}}},
{"data":{"name":"trend"},"mark":{"type":"line","strokeWidth":2.2},"encoding":{"y":{"field":"v","type":"quantitative"},"detail":{"field":"s"},"stroke":{"field":"k","type":"nominal","legend":null,"scale":{"domain":["up","flat"],"range":["#ff0000","#ffffff"]}}}},
{"data":{"name":"stop"},"mark":{"type":"line","color":"#0000ff","strokeWidth":1.6},"encoding":{"y":{"field":"v","type":"quantitative"}}},
{"data":{"name":"ticks"},"mark":{"type":"rule","color":"#b00000"},"encoding":{"y":{"datum":5.764,"type":"quantitative"},"y2":{"datum":5.751}}},
{"data":{"name":"ticks"},"mark":{"type":"rule","color":"#b00000"},"encoding":{"x":{"value":0},"x2":{"value":1049},"y":{"datum":5.751,"type":"quantitative"}}},
{"data":{"name":"buys"},"mark":{"type":"point","shape":"circle","filled":true,"color":"#ffffff","size":165,"opacity":1},"encoding":{"y":{"field":"v","type":"quantitative"}}},
{"data":{"name":"buys"},"mark":{"type":"point","shape":"cross","filled":true,"color":"#f01818","size":75,"opacity":1},"encoding":{"y":{"field":"v","type":"quantitative"}}},
{"data":{"name":"icon"},"mark":{"type":"point","shape":"circle","filled":true,"color":"#808080","size":130,"opacity":1},"encoding":{"y":{"field":"v","type":"quantitative"}}},
{"data":{"name":"icon"},"mark":{"type":"point","shape":"M-0.5,-0.2L0,0.3L0.5,-0.2","filled":false,"color":"#1a1a1a","strokeWidth":1.6,"size":50,"opacity":1},"encoding":{"y":{"field":"v","type":"quantitative"}}},
{"data":{"name":"cai"},"mark":{"type":"point","shape":"square","filled":true,"color":"#0f3a66","size":170,"opacity":1},"encoding":{"y":{"field":"v","type":"quantitative"}}},
{"data":{"name":"cai"},"mark":{"type":"text","color":"#ffffff","font":"Noto Sans CJK SC","fontSize":12,"baseline":"middle"},"encoding":{"y":{"field":"v","type":"quantitative"},"text":{"field":"t"}}},
{"data":{"name":"dollar"},"mark":{"type":"text","color":"#ff0000","font":"Noto Sans","fontSize":13,"fontWeight":"bold","baseline":"middle"},"encoding":{"y":{"field":"v","type":"quantitative"},"text":{"field":"t"}}},
{"data":{"name":"notes"},"mark":{"type":"text","font":"Noto Sans CJK SC","fontSize":12,"align":"left","baseline":"middle"},"encoding":{"y":{"field":"v","type":"quantitative"},"text":{"field":"t"},"color":{"field":"k","type":"nominal","legend":null,"scale":{"domain":["name","cost","sell","fund","attack","ctrl"],"range":["#c0c0c0","#ff00ff","#ff0000","#00ff00","#ffffff","#ffff00"]}}}}
]},
{"width":1049,"height":166,
"encoding":{"x":{"field":"i","type":"quantitative","axis":null,"scale":{"domain":[-0.483,89.95],"nice":false,"zero":false,"padding":0}}},
"layer":[
{"data":{"name":"volgrid"},"mark":{"type":"rule","color":"#b00000","strokeDash":[1,6],"strokeWidth":1},"encoding":{"x":{"value":0},"x2":{"value":1049},"y":{"field":"v","type":"quantitative","axis":null,"scale":{"domain":[-5064,205092],"nice":false,"zero":false}}}},
{"data":{"name":"volgrid"},"transform":[{"filter":"datum.v===50000"}],"mark":{"type":"rule","color":"#a00000","strokeWidth":1},"encoding":{"x":{"value":0},"x2":{"value":1049},"y":{"datum":204400,"type":"quantitative"}}},
{"data":{"name":"volgrid"},"transform":[{"filter":"datum.v===50000"}],"mark":{"type":"rule","color":"#a00000","strokeWidth":1},"encoding":{"x":{"value":0},"x2":{"value":1049},"y":{"datum":-3600,"type":"quantitative"}}},
{"data":{"name":"bars"},"mark":{"type":"bar","size":8,"orient":"vertical","strokeWidth":1.4},"encoding":{"y":{"field":"vol","type":"quantitative"},"y2":{"datum":0},"stroke":{"field":"vd","type":"nominal","legend":null,"scale":{"domain":["up","down"],"range":["#ff3232","#54ffff"]}},"fill":{"field":"vd","type":"nominal","legend":null,"scale":{"domain":["up","down"],"range":["#000000","#54ffff"]}}}},
{"data":{"name":"bars"},"mark":{"type":"line","color":"#ffffff","strokeWidth":1.2},"encoding":{"y":{"field":"ma5","type":"quantitative"}}},
{"data":{"name":"bars"},"mark":{"type":"line","color":"#ffff00","strokeWidth":1.2},"encoding":{"y":{"field":"ma10","type":"quantitative"}}},
{"data":{"name":"volicon"},"mark":{"type":"point","shape":"circle","filled":true,"color":"#808080","size":130,"opacity":1},"encoding":{"y":{"field":"v","type":"quantitative"}}},
{"data":{"name":"volicon"},"mark":{"type":"point","shape":"M-0.5,-0.2L0,0.3L0.5,-0.2","filled":false,"color":"#1a1a1a","strokeWidth":1.6,"size":50,"opacity":1},"encoding":{"y":{"field":"v","type":"quantitative"}}},
{"data":{"name":"volnotes"},"mark":{"type":"text","font":"Noto Sans CJK SC","fontSize":12,"align":"left","baseline":"middle"},"encoding":{"y":{"field":"v","type":"quantitative"},"text":{"field":"t"},"color":{"field":"k","type":"nominal","legend":null,"scale":{"domain":["attack","ctrl"],"range":["#ffffff","#ffff00"]}}}}
]}
]}
